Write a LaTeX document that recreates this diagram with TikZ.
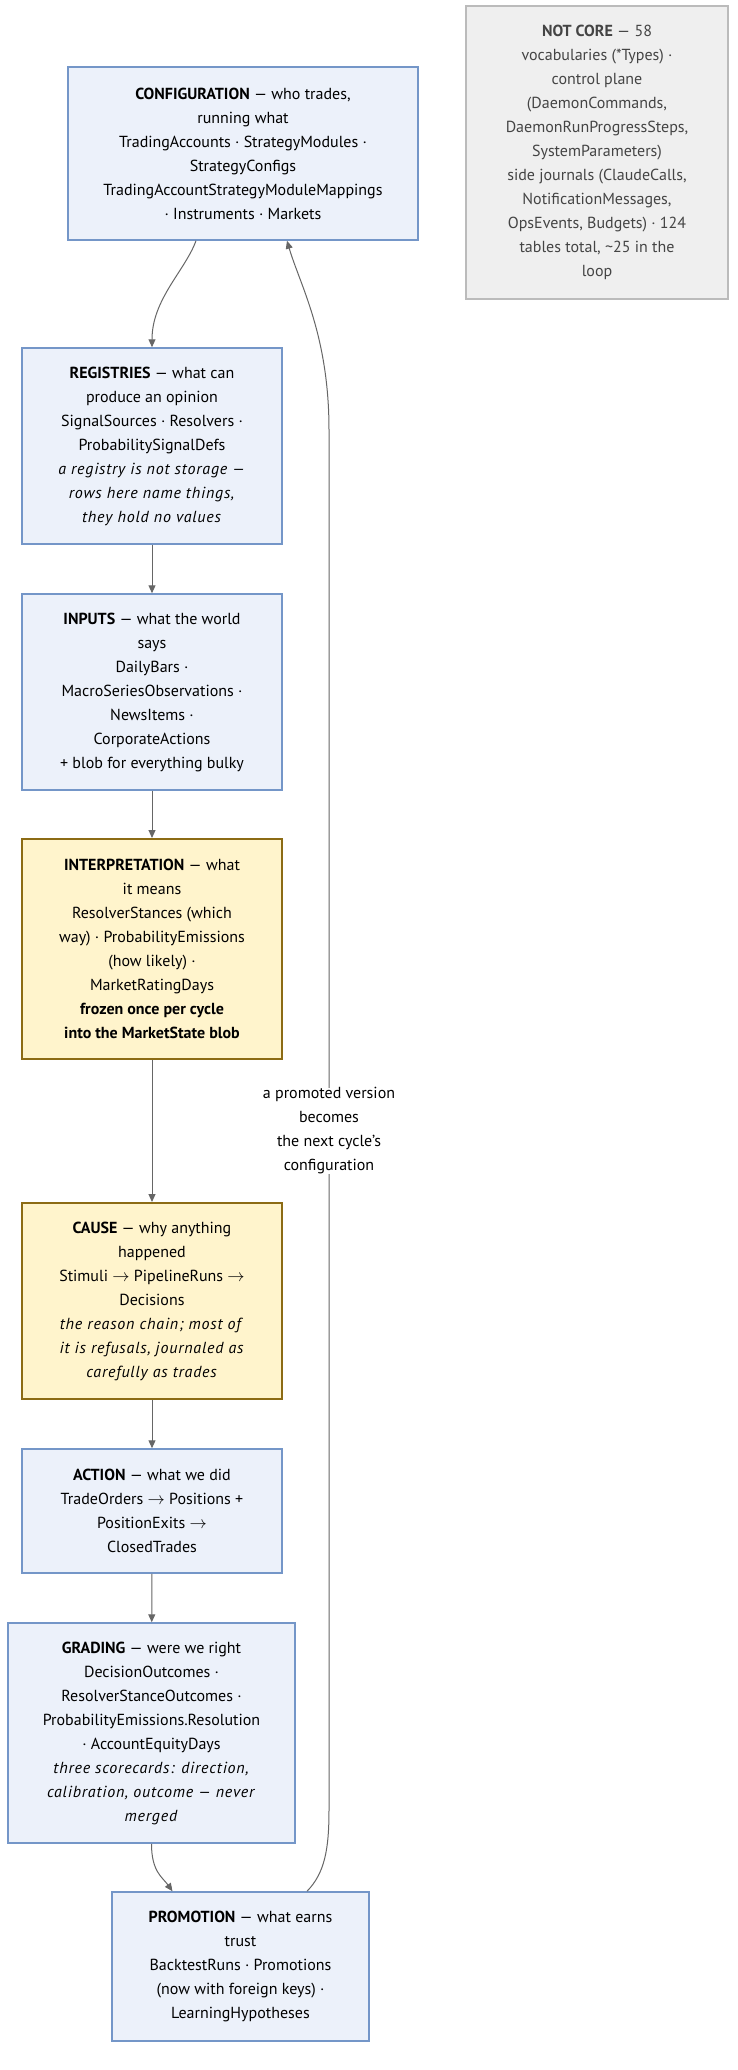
\documentclass[tikz,border=0pt]{standalone}
\usepackage{fontspec}
\setmainfont{PT Sans}[ItalicFeatures={LetterSpace=5}]
\usetikzlibrary{arrows.meta,calc}
\definecolor{bfill}{HTML}{ECF1FA}
\definecolor{bline}{HTML}{7496C8}
\definecolor{yfill}{HTML}{FFF4CC}
\definecolor{yline}{HTML}{8C6B14}
\definecolor{gfill}{HTML}{EFEFEF}
\definecolor{gline}{HTML}{BBBBBB}
\definecolor{gtext}{HTML}{444444}
\definecolor{edgec}{HTML}{666666}
\newcommand{\myarr}{\ensuremath{\rightarrow}}
\begin{document}
\begin{tikzpicture}[x=1pt,y=-1pt,
 box/.style={draw, line width=1.5pt, inner sep=0pt, align=center, font=\fontsize{16}{24}\selectfont, text=black},
 bluebox/.style={box, fill=bfill, draw=bline},
 yelbox/.style={box, fill=yfill, draw=yline, line width=2pt},
 graybox/.style={box, fill=gfill, draw=gline, text=gtext},
 flow/.style={draw=edgec, line width=1pt, -{Triangle[length=8pt,width=7pt]}},
 elabel/.style={fill=white, inner sep=0pt, align=center, font=\fontsize{16}{24}\selectfont}
]
\fill[white] (0,0) rectangle (737,2070);
\path[use as bounding box] (0,0) rectangle (737,2070);

\node[bluebox, minimum width=350pt, minimum height=173pt] (config) at (243,153.5)
 {\textbf{CONFIGURATION} — who trades,\\running what\\TradingAccounts · StrategyModules ·\\StrategyConfigs\\TradingAccountStrategyModuleMappings\\· Instruments · Markets};

\node[graybox, minimum width=262pt, minimum height=293pt] (notcore) at (597,152.5)
 {\textbf{NOT CORE} — 58\\vocabularies (*Types) ·\\control plane\\(DaemonCommands,\\DaemonRunProgressSteps,\\SystemParameters)\\side journals (ClaudeCalls,\\NotificationMessages,\\OpsEvents, Budgets) · 124\\tables total, \textasciitilde25 in the\\loop};

\node[bluebox, minimum width=260pt, minimum height=196pt] (registries) at (152,446)
 {\textbf{REGISTRIES} — what can\\produce an opinion\\SignalSources · Resolvers ·\\ProbabilitySignalDefs\\\textit{a registry is not storage —}\\\textit{rows here name things,}\\\textit{they hold no values}};

\node[bluebox, minimum width=260pt, minimum height=196pt] (inputs) at (152,692)
 {\textbf{INPUTS} — what the world\\says\\DailyBars ·\\MacroSeriesObservations ·\\NewsItems ·\\CorporateActions\\+ blob for everything bulky};

\node[yelbox, minimum width=260pt, minimum height=220pt] (interp) at (152,949)
 {\textbf{INTERPRETATION} — what\\it means\\ResolverStances (which\\way) · ProbabilityEmissions\\(how likely) ·\\MarketRatingDays\\\textbf{frozen once per cycle}\\\textbf{into the MarketState blob}};

\node[yelbox, minimum width=260pt, minimum height=196pt] (cause) at (152,1301)
 {\textbf{CAUSE} — why anything\\happened\\Stimuli \myarr{} PipelineRuns \myarr\\Decisions\\\textit{the reason chain; most of}\\\textit{it is refusals, journaled as}\\\textit{carefully as trades}};

\node[bluebox, minimum width=260pt, minimum height=124pt] (action) at (152,1511)
 {\textbf{ACTION} — what we did\\TradeOrders \myarr{} Positions +\\PositionExits \myarr\\ClosedTrades};

\node[bluebox, minimum width=287pt, minimum height=220pt] (grading) at (151.5,1733)
 {\textbf{GRADING} — were we right\\DecisionOutcomes ·\\ResolverStanceOutcomes ·\\ProbabilityEmissions.Resolution\\· AccountEquityDays\\\textit{three scorecards: direction,}\\\textit{calibration, outcome — never}\\\textit{merged}};

\node[bluebox, minimum width=257pt, minimum height=149pt] (promo) at (240.5,1966.5)
 {\textbf{PROMOTION} — what earns\\trust\\BacktestRuns · Promotions\\(now with foreign keys) ·\\LearningHypotheses};

\draw[flow] ($(config.south)+(-47,0)$) .. controls ($(config.south)+(-58,30)$) and ($(registries.north)+(0,-48)$) .. (registries.north);
\draw[flow] (registries) -- (inputs);
\draw[flow] (inputs) -- (interp);
\draw[flow] (interp) -- (cause);
\draw[flow] (cause) -- (action);
\draw[flow] (action) -- (grading);
\draw[flow] (grading.south) .. controls ($(grading.south)+(0,28)$) and ($(promo.north)+(-78,-14)$) .. ($(promo.north)+(-68,0)$);

\coordinate (rtop) at (329,430);
\coordinate (rbot) at (329,1810);
\draw[flow] ($(promo.north)+(66.5,0)$) .. controls ($(promo.north)+(84,-18)$) and (329,1850) .. (rbot) -- (rtop) .. controls (329,335) and (300,285) .. ($(config.south)+(44,0)$);

\node[elabel] (lbl) at (329,1131) {a promoted version\\becomes\\the next cycle's\\configuration};
\end{tikzpicture}
\end{document}
